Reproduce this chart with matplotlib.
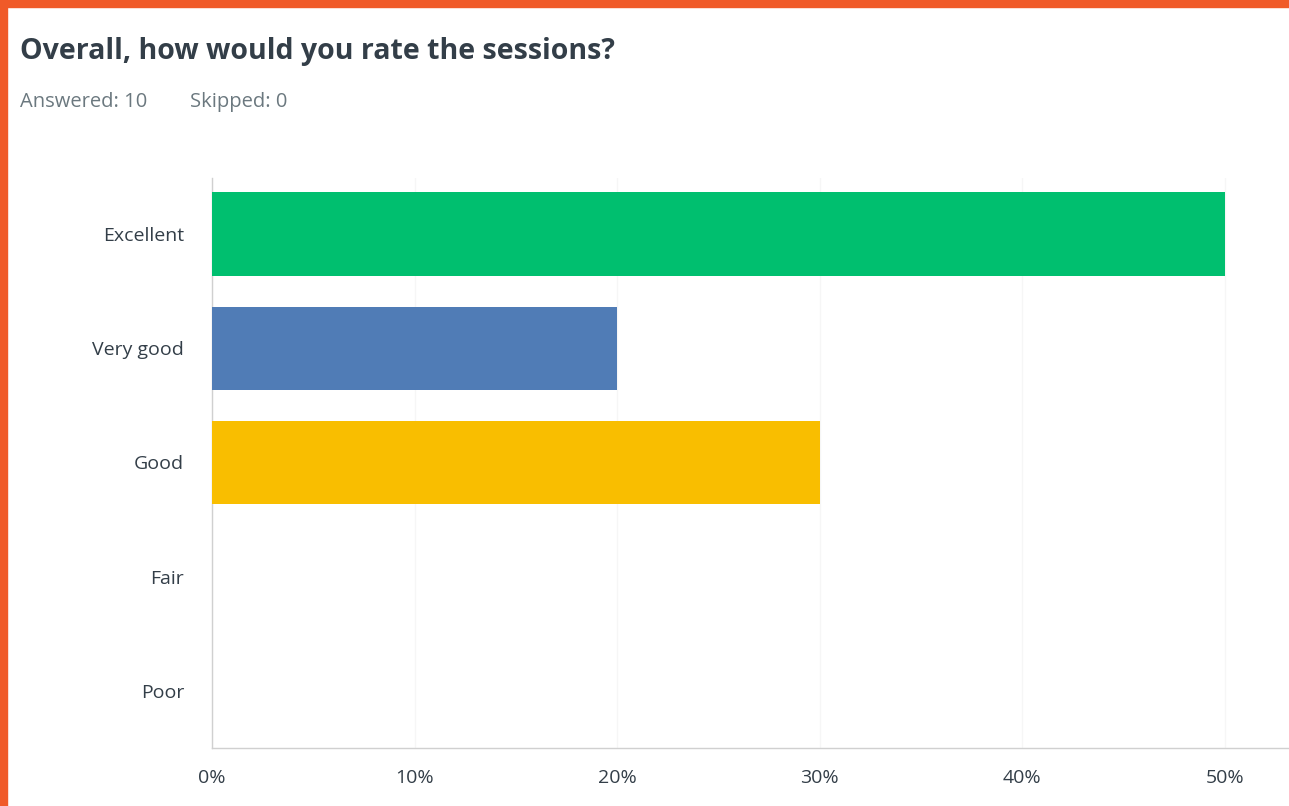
import matplotlib
matplotlib.use("Agg")
import matplotlib.pyplot as plt
from matplotlib.patches import Rectangle

# survey answers, percent of respondents
categories = ["Excellent", "Very good", "Good", "Fair", "Poor"]
percents = [50, 20, 30, 0, 0]
bar_colors = ["#00bf6f", "#507cb6", "#f9be00", "#00bf6f", "#00bf6f"]
xticks = [0, 10, 20, 30, 40, 50]
xtick_labels = ["0%", "10%", "20%", "30%", "40%", "50%"]

plt.rcParams["font.family"] = ["Open Sans", "DejaVu Sans"]

W, H = 1289, 806
fig = plt.figure(figsize=(W / 100, H / 100), dpi=100)
fig.patch.set_facecolor("white")

# orange frame along top and left edges
fig.patches.append(Rectangle((0, 1 - 7 / H), 1, 7 / H, transform=fig.transFigure,
                             color="#f05a28", zorder=10))
fig.patches.append(Rectangle((0, 0), 7 / W, 1, transform=fig.transFigure,
                             color="#f05a28", zorder=10))

fig.text(20 / W, 1 - 51 / H, "Overall, how would you rate the sessions?",
         fontsize=20.5, fontweight="bold", color="#333e48", va="center", ha="left")
fig.text(20 / W, 1 - 102 / H, "Answered: 10", fontsize=14.5,
         color="#6b787f", va="center", ha="left")
fig.text(190 / W, 1 - 102 / H, "Skipped: 0", fontsize=14.5,
         color="#6b787f", va="center", ha="left")

ax = fig.add_axes([212 / W, 1 - 748 / H, 1 - 212 / W, (748 - 178) / H])
ypos = list(range(len(categories)))
ax.barh(ypos, percents, height=0.73, color=bar_colors, zorder=3)

ax.set_xlim(0, 53.16)
ax.set_ylim(4.5, -0.49)
ax.set_yticks(ypos)
ax.set_yticklabels(categories)
ax.set_xticks(xticks)
ax.set_xticklabels(xtick_labels)
ax.tick_params(axis="both", length=0, labelsize=14, labelcolor="#333e48")
ax.tick_params(axis="x", pad=15)
ax.tick_params(axis="y", pad=20)

ax.grid(axis="x", color="#f6f6f6", linewidth=1, zorder=0)
for side in ("top", "right"):
    ax.spines[side].set_visible(False)
for side in ("left", "bottom"):
    ax.spines[side].set_color("#d0d0d0")
    ax.spines[side].set_linewidth(1)

fig.savefig("out.png", dpi=100)
